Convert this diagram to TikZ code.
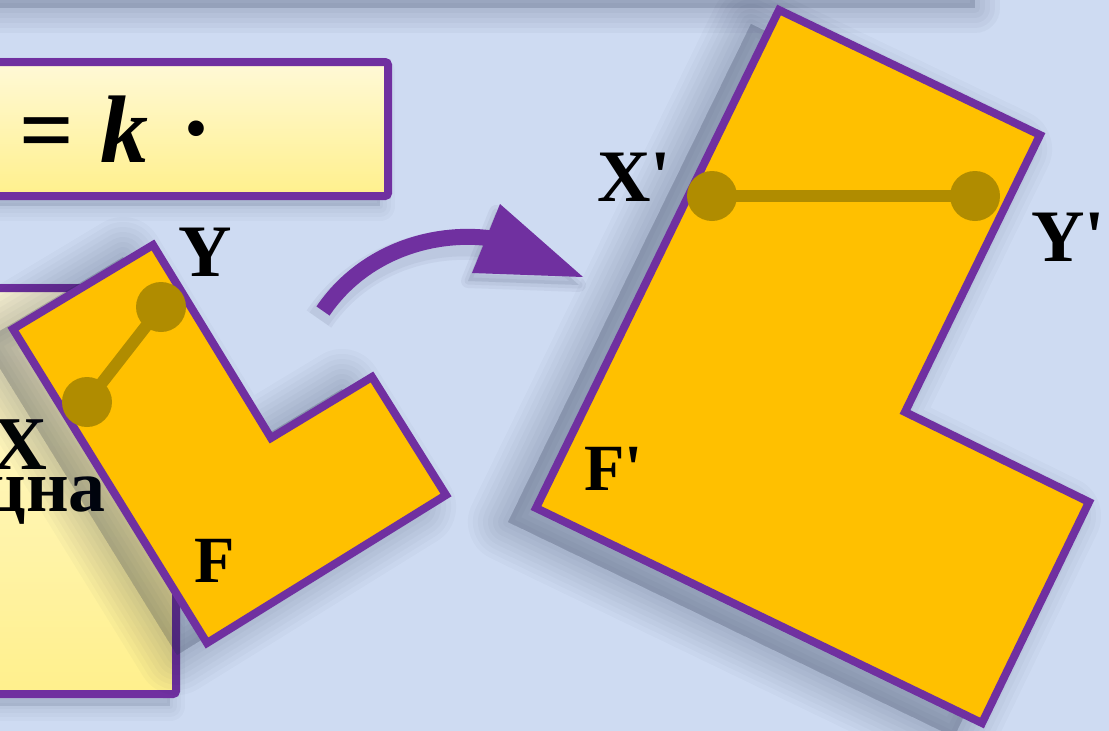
\documentclass[tikz,border=0pt]{standalone}
\usepackage{fontspec}
\setmainfont{Liberation Serif}
\definecolor{bg}{RGB}{206,219,242}
\definecolor{purp}{RGB}{112,48,160}
\definecolor{orng}{RGB}{255,192,0}
\definecolor{olivedot}{RGB}{176,140,0}
\definecolor{boxtop}{RGB}{255,249,215}
\definecolor{boxbot}{RGB}{255,240,140}
\definecolor{shad}{RGB}{30,40,70}
\newcommand\Lshape[1]{\path[#1] (13,329) -- (153,245) -- (271,438) -- (372,377) -- (446,495) -- (207,643) -- cycle;}
\newcommand\Rshape[1]{\path[#1] (779,10) -- (1040,135) -- (905,412) -- (1089,502) -- (982,723) -- (536,508) -- cycle;}
\begin{document}
\begin{tikzpicture}[x=1pt,y=-1pt,
  lbl/.style={inner sep=0pt, font=\fontsize{74}{74}\selectfont\bfseries},
  lblf/.style={inner sep=0pt, font=\fontsize{66}{66}\selectfont\bfseries},
  boxtxt/.style={inner sep=0pt, font=\fontsize{96}{96}\selectfont\bfseries},
  figure/.style={fill=orng, draw=purp, line width=8pt, line join=miter},
  seg/.style={draw=olivedot, line width=12pt},
  dot/.style={fill=olivedot},
  yellowbox/.style={draw=purp, line width=8pt, top color=boxtop, bottom color=boxbot, rounded corners=3pt},
  shadowlayer/.style={fill=shad, draw=shad, opacity=0.028, line join=round}]
\useasboundingbox (0,0) rectangle (1109,731);
\clip (0,0) rectangle (1109,731);
% background
\fill[bg] (0,0) rectangle (1109,731);
\foreach \w in {50,40,30,20,10} {
  \path[fill=shad, draw=shad, opacity=0.035, line width=\w pt, line join=round] (-40,-40) rectangle (975,8);
}
% box shadows
\foreach \w in {30,22,14,6} {
  \path[shadowlayer, line width=\w pt] (-20,72) rectangle (380,206);
  \path[shadowlayer, line width=\w pt] (-20,298) rectangle (170,706);
}
% yellow boxes
\path[yellowbox] (-10,62) rectangle (388,196);
\path[yellowbox] (-10,288) rectangle (176,694);
\node[boxtxt, anchor=base west] (eq) at (19,162) {=};
\node[boxtxt, anchor=base west] (k) at (100,162) {\itshape k};
\node[boxtxt, anchor=base] (cdot) at (197,160) {·};
\node[lbl, font=\fontsize{76}{76}\selectfont\bfseries, anchor=base east] (xa) at (48,469) {X};
\node[lbl, anchor=base east] (tsna) at (106,511) {цна};
% left figure shadow and figure
\foreach \w in {80,70,60,50,40,30,20,10} {\Lshape{shadowlayer, line width=\w pt, shift={(-30,12)}}}
\Lshape{figure}
% arrow
\foreach \w in {14,7} {
  \path[draw=shad, opacity=0.05, line width=16pt+\w pt, shift={(-4,8)}] (323,311) .. controls (366,248) and (440,230) .. (495,239);
  \path[fill=shad, draw=shad, opacity=0.05, line width=\w pt, line join=round, shift={(-4,8)}] (500,204) -- (583,277) -- (472,273) -- cycle;
}
\coordinate (atail) at (323,311);
\coordinate (ahead) at (495,239);
\draw[purp, line width=16pt] (atail) .. controls (366,248) and (440,230) .. (ahead);
\fill[purp] (500,204) -- (583,277) -- (472,273) -- cycle;
% right figure shadow and figure
\foreach \w in {80,70,60,50,40,30,20,10} {\Rshape{shadowlayer, line width=\w pt, shift={(-28,14)}}}
\Rshape{figure}
% segments
\coordinate (X) at (87,402);
\coordinate (Y) at (161,307);
\coordinate (Xp) at (712,196);
\coordinate (Yp) at (975,196);
\draw[seg] (X) -- (Y);
\fill[dot] (X) circle (25);
\fill[dot] (Y) circle (25);
\draw[seg] (Xp) -- (Yp);
\fill[dot] (Xp) circle (25);
\fill[dot] (Yp) circle (25);
% labels
\node[lbl, anchor=base west] (ylab) at (178,276) {Y};
\node[lblf, anchor=base west] (flab) at (194,582) {F};
\node[lbl, anchor=base west] (xplab) at (597,201) {X\textquotesingle};
\node[lbl, anchor=base west] (yplab) at (1031,261) {Y\textquotesingle};
\node[lblf, anchor=base west] (fplab) at (584,490) {F\textquotesingle};
\end{tikzpicture}
\end{document}
